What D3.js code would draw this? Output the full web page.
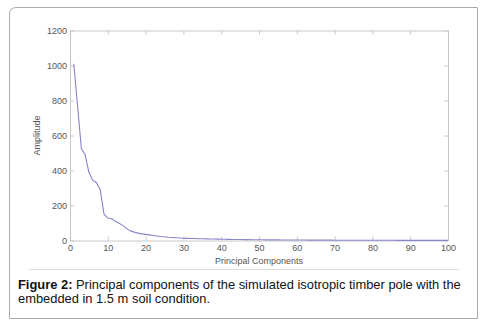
<!DOCTYPE html>
<html lang="en">
<head>
    <meta charset="UTF-8">
    <script type="text/javascript" src="https://cdn.jsdelivr.net/npm/d3@7/dist/d3.min.js"></script>
    <title>Principal components</title>
    <style>
        body { margin: 0; background: #fff; }
    </style>
</head>
<body>
</body>
<script>
    // principal component index 1..100 and its amplitude
    var components = d3.range(1, 101);
    var amplitude = [
        1010, 770, 525, 490, 390, 345, 330, 290, 150, 128,
        124, 110, 98, 85, 68, 55, 48, 42, 38, 35,
        32, 29, 26, 23, 21, 19, 17.5, 16, 14.5, 13,
        12.3, 11.6, 11, 10.4, 9.8, 9.2, 8.7, 8.2, 7.7, 7.2,
        6.8, 6.4, 6.0, 5.7, 5.4, 5.1, 4.8, 4.6, 4.4, 4.2,
        4.0, 3.8, 3.6, 3.4, 3.3, 3.1, 3.0, 2.9, 2.8, 2.7,
        2.6, 2.5, 2.4, 2.3, 2.2, 2.1, 2.0, 1.95, 1.9, 1.85,
        1.8, 1.75, 1.7, 1.65, 1.6, 1.55, 1.5, 1.45, 1.4, 1.35,
        1.3, 1.25, 1.2, 1.15, 1.1, 1.05, 1.0, 0.97, 0.94, 0.91,
        0.88, 0.85, 0.82, 0.79, 0.76, 0.73, 0.7, 0.67, 0.64, 0.6
    ];
    var xTicks = [0, 10, 20, 30, 40, 50, 60, 70, 80, 90, 100];
    var yTicks = [0, 200, 400, 600, 800, 1000, 1200];
    var captionLines = [
        ["Figure 2:", " Principal components of the simulated isotropic timber pole with the"],
        ["", "embedded in 1.5 m soil condition."]
    ];

    var W = 499, H = 326;
    var mLeft = 70, mRight = 448, mTop = 30.5, mBottom = 240.5;
    var axisColor = "#c8c8c8", tickText = "#555";

    var svg = d3.select("body")
        .append("svg")
        .attr("width", W)
        .attr("height", H)
        .style("font-family", "'Liberation Sans', Arial, sans-serif")

    // outer frame with rounded top-left corner
    svg.append("path")
        .attr("d", "M9.5,318.5 V14.5 Q9.5,7.5 16.5,7.5 H477.5 V318.5 Z")
        .attr("fill", "none")
        .attr("stroke", "#a9a9a9")

    var x = d3.scaleLinear().domain([0, 100]).range([mLeft, mRight]);
    var y = d3.scaleLinear().domain([0, 1200]).range([mBottom, mTop]);

    var g = svg.append("g");

    function styleAxis(sel) {
        sel.select(".domain").attr("stroke", axisColor);
        sel.selectAll(".tick line").attr("stroke", axisColor);
        sel.selectAll(".tick text")
            .attr("fill", tickText)
            .style("font-size", "9px");
    }

    g.append("g")
        .attr("transform", "translate(0," + mBottom + ")")
        .call(d3.axisBottom(x).tickValues(xTicks).tickSize(-4).tickPadding(4).tickSizeOuter(0))
        .call(styleAxis)
    g.append("g")
        .attr("transform", "translate(0," + mTop + ")")
        .call(d3.axisTop(x).tickValues(xTicks).tickSize(-4).tickFormat("").tickSizeOuter(0))
        .call(styleAxis)
    g.append("g")
        .attr("transform", "translate(" + mLeft + ",0)")
        .call(d3.axisLeft(y).tickValues(yTicks).tickSize(-4).tickPadding(3)
            .tickFormat(d3.format("d")).tickSizeOuter(0))
        .call(styleAxis)
    g.append("g")
        .attr("transform", "translate(" + mRight + ",0)")
        .call(d3.axisRight(y).tickValues(yTicks).tickSize(-4).tickFormat("").tickSizeOuter(0))
        .call(styleAxis)

    var line = d3.line()
        .x((d, i) => x(components[i]))
        .y(d => y(d));

    g.append("path")
        .datum(amplitude)
        .attr("fill", "none")
        .attr("stroke", "#8585cc")
        .attr("stroke-width", 1.1)
        .attr("d", line)

    svg.append("text")
        .attr("x", (mLeft + mRight) / 2)
        .attr("y", 264)
        .attr("text-anchor", "middle")
        .attr("fill", "#555")
        .style("font-size", "9px")
        .text("Principal Components")

    svg.append("text")
        .attr("transform", "translate(40," + (mTop + mBottom) / 2 + ") rotate(-90)")
        .attr("text-anchor", "middle")
        .attr("fill", "#555")
        .style("font-size", "9px")
        .text("Amplitude")

    svg.append("line")
        .attr("x1", 29).attr("x2", 459)
        .attr("y1", 269.5).attr("y2", 269.5)
        .attr("stroke", "#dcdcdc")

    var cap = svg.append("text")
        .attr("fill", "#111")
        .style("font-size", "12.9px")
    captionLines.forEach(function (l, i) {
        var t = cap.append("tspan").attr("x", 18).attr("y", 288.5 + i * 14.5);
        if (l[0]) t.append("tspan").attr("font-weight", "bold").text(l[0]);
        t.append("tspan").text(l[1]);
    });
</script>
</html>
